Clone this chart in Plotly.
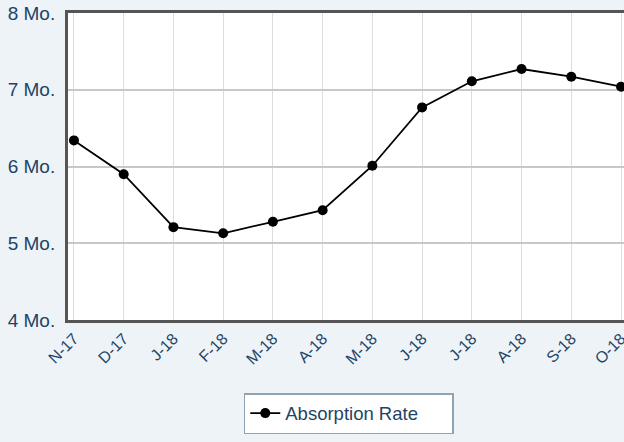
import plotly.graph_objects as go

categories = ["N-17", "D-17", "J-18", "F-18", "M-18", "A-18", "M-18", "J-18", "J-18", "A-18", "S-18", "O-18"]
absorption = [6.34, 5.90, 5.21, 5.13, 5.28, 5.43, 6.01, 6.77, 7.11, 7.27, 7.17, 7.04]
y_ticks = [4, 5, 6, 7, 8]
y_labels = ["4 Mo.", "5 Mo.", "6 Mo.", "7 Mo.", "8 Mo."]

x_idx = list(range(len(categories)))

fig = go.Figure()
fig.add_trace(go.Scatter(
    x=x_idx, y=absorption, mode="lines+markers", name="Absorption Rate",
    line=dict(color="black", width=1.8),
    marker=dict(color="black", size=10),
))

font_color = "#1d4466"
fig.update_layout(
    width=624, height=442,
    margin=dict(l=68, r=0, t=13, b=122),
    paper_bgcolor="#eef3f8",
    plot_bgcolor="white",
    font=dict(family="Liberation Sans, Arial, sans-serif", size=19, color=font_color),
    showlegend=True,
    legend=dict(
        orientation="h", x=0.505, xanchor="center", y=-0.238, yanchor="top",
        bgcolor="white", bordercolor="#8ea3b5", borderwidth=1.5,
        entrywidth=162,
        font=dict(size=18.5, color=font_color),
    ),
    xaxis=dict(
        range=[-0.12, 11.06], automargin=False,
        tickmode="array", tickvals=x_idx, ticktext=categories,
        tickangle=-45, tickfont=dict(size=16),
        ticklabeloverflow="allow",
        showgrid=True, gridcolor="#dddddd", gridwidth=1,
        showline=True, linecolor="#555555", linewidth=3, mirror=True,
        ticks="", zeroline=False,
    ),
    yaxis=dict(
        range=[4, 8], automargin=False,
        tickmode="array", tickvals=y_ticks, ticktext=y_labels,
        showgrid=True, gridcolor="#c8c8c8", gridwidth=1.5,
        showline=True, linecolor="#555555", linewidth=3,
        ticks="", zeroline=False, ticklabelstandoff=6,
    ),
)

fig.write_html(
    "out.html",
    config={"displayModeBar": False},
    post_script="document.body.style.margin='0px';document.body.style.background='#eef3f8';document.body.style.overflow='hidden';",
)
